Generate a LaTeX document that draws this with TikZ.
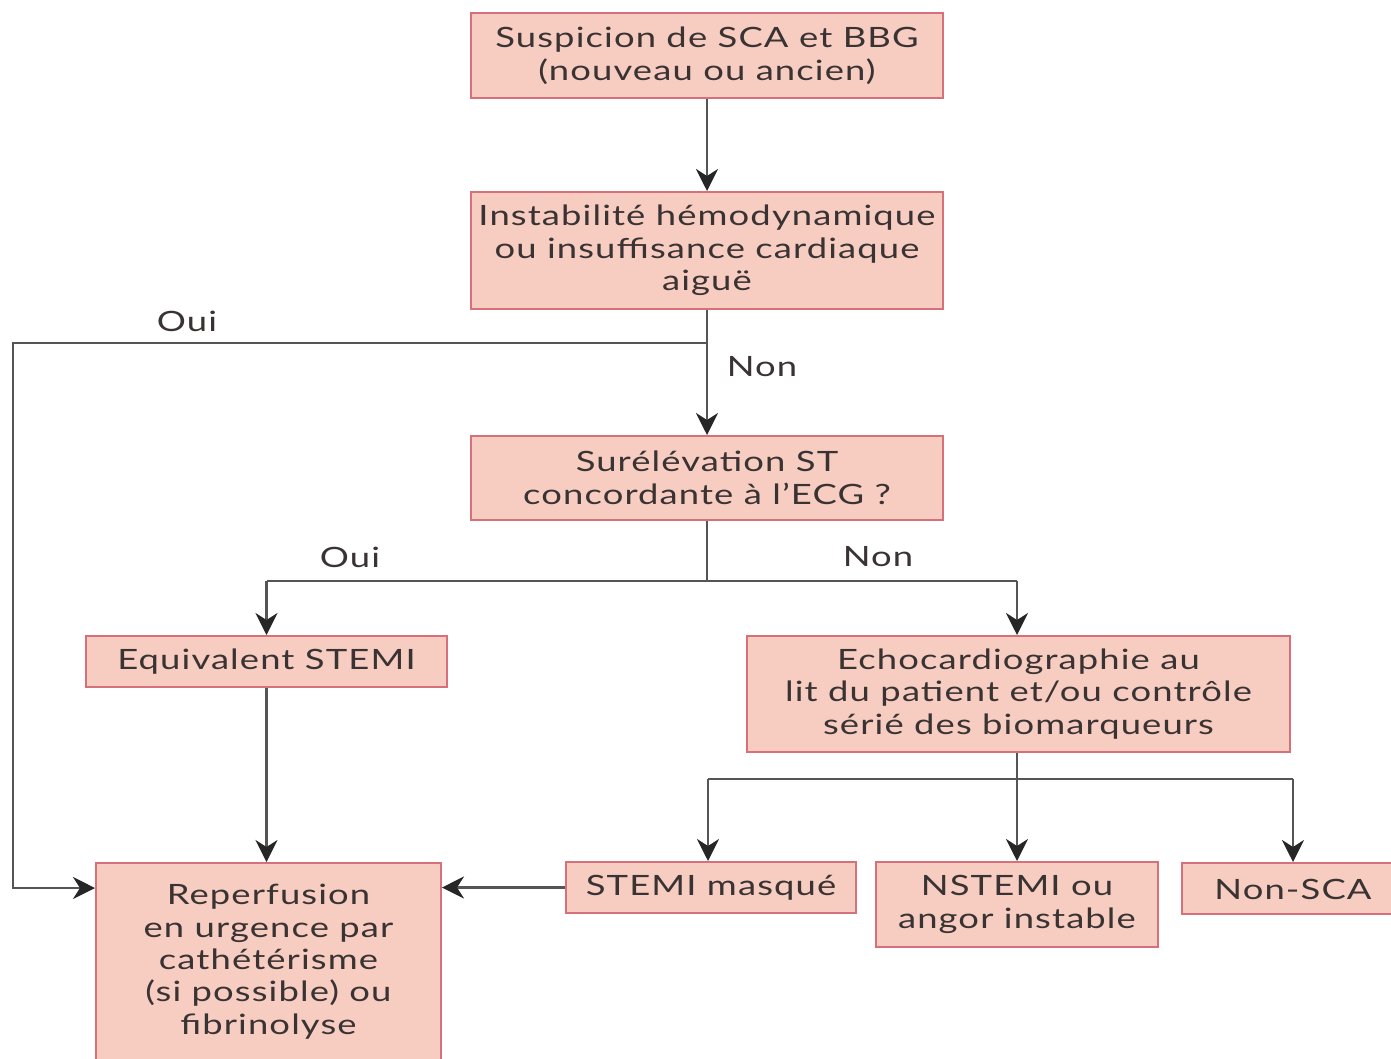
\documentclass[tikz,border=0pt]{standalone}
\usepackage{fontspec}
\setmainfont{Lato}[FakeStretch=1.3,LetterSpace=4]
\usetikzlibrary{arrows.meta}
\definecolor{boxfill}{HTML}{F7CDC2}
\definecolor{boxline}{HTML}{D6707A}
\definecolor{txt}{HTML}{3A3333}
\definecolor{ln}{HTML}{555555}
\tikzset{
  box/.style={draw=boxline, line width=2pt, fill=boxfill, text=txt, align=center,
    inner sep=0pt, font=\fontsize{28}{32.5}\selectfont},
  btxt/.style={text=txt, align=center, inner sep=0pt, font=\fontsize{28}{32.4}\selectfont},
  lab/.style={text=txt, font=\fontsize{28}{30}\selectfont, inner sep=0pt},
  conn/.style={draw=ln, line width=2.5pt},
  arr/.style={conn, -{Stealth[length=22pt,width=22pt,inset=7pt,color=black!85]}}
}
\begin{document}
\begin{tikzpicture}[x=1pt,y=-1pt]
\useasboundingbox (0,0) rectangle (1391,1058);
\clip (0,0) rectangle (1391,1058);
\fill[white] (0,0) rectangle (1391,1058);
% boxes
\node[box, minimum width=472pt, minimum height=85pt] (b1) at (707,55.5) {Suspicion de SCA et BBG\\(nouveau ou ancien)};
\node[box, minimum width=472pt, minimum height=117pt] (b2) at (707,250.5) {Instabilité hémodynamique\\ou insuffisance cardiaque\\aiguë};
\node[box, minimum width=472pt, minimum height=84pt] (b3) at (707,478) {Surélévation ST\\concordante à l’ECG ?};
\node[box, minimum width=361pt, minimum height=51pt] (eq) at (266.5,661.5) {Equivalent STEMI};
\node[box, minimum width=543pt, minimum height=116pt] (echo) at (1018.5,694) {Echocardiographie au\\lit du patient et/ou contrôle\\sérié des biomarqueurs};
\node[box, minimum width=345pt, minimum height=210pt, anchor=north] (rep) at (268.5,862) {};
\node[btxt, anchor=north] (reptxt) at (268.5,884) {Reperfusion\\en urgence par\\cathétérisme\\(si possible) ou\\fibrinolyse};
\node[box, minimum width=290pt, minimum height=51pt] (sm) at (711,887.5) {STEMI masqué};
\node[box, minimum width=282pt, minimum height=85pt] (ns) at (1017,904.5) {NSTEMI ou\\angor instable};
\node[box, minimum width=226pt, minimum height=51pt, anchor=north west] (nsca) at (1181,862) {};
\node[btxt] (nscatxt) at (1293,889) {Non-SCA};
% junction coordinates
\coordinate (j1) at (707,343);
\coordinate (jl) at (13,343);
\coordinate (jlb) at (13,888);
\coordinate (j2) at (707,581);
\coordinate (j2l) at (266.5,581);
\coordinate (j2r) at (1017,581);
\coordinate (j3) at (1017,779);
\coordinate (j3l) at (708,779);
\coordinate (j3r) at (1293,779);
% connectors
\draw[arr] (b1.south) -- (b2.north);
\draw[conn] (b2.south) -- (j1);
\draw[arr] (j1) -- (b3.north);
\draw[arr] (j1) -- (jl) -- (jlb) -- (rep.west |- jlb);
\draw[conn] (b3.south) -- (j2);
\draw[conn] (j2l) -- (j2r);
\draw[arr] (j2l) -- (eq.north);
\draw[arr] (j2r) -- (echo.north -| j2r);
\draw[arr] (eq.south) -- (eq.south |- rep.north);
\draw[conn] (echo.south -| j3) -- (j3);
\draw[conn] (j3l) -- (j3r);
\draw[arr] (j3l) -- (sm.north -| j3l);
\draw[arr] (j3) -- (ns.north);
\draw[arr] (j3r) -- (nsca.north -| j3r);
\draw[arr] (sm.west) -- (rep.east |- sm.west);
% labels
\node[lab] (l1) at (187,321) {Oui};
\node[lab] (l2) at (762,367) {Non};
\node[lab] (l3) at (350,557) {Oui};
\node[lab] (l4) at (878,557) {Non};
\end{tikzpicture}
\end{document}
